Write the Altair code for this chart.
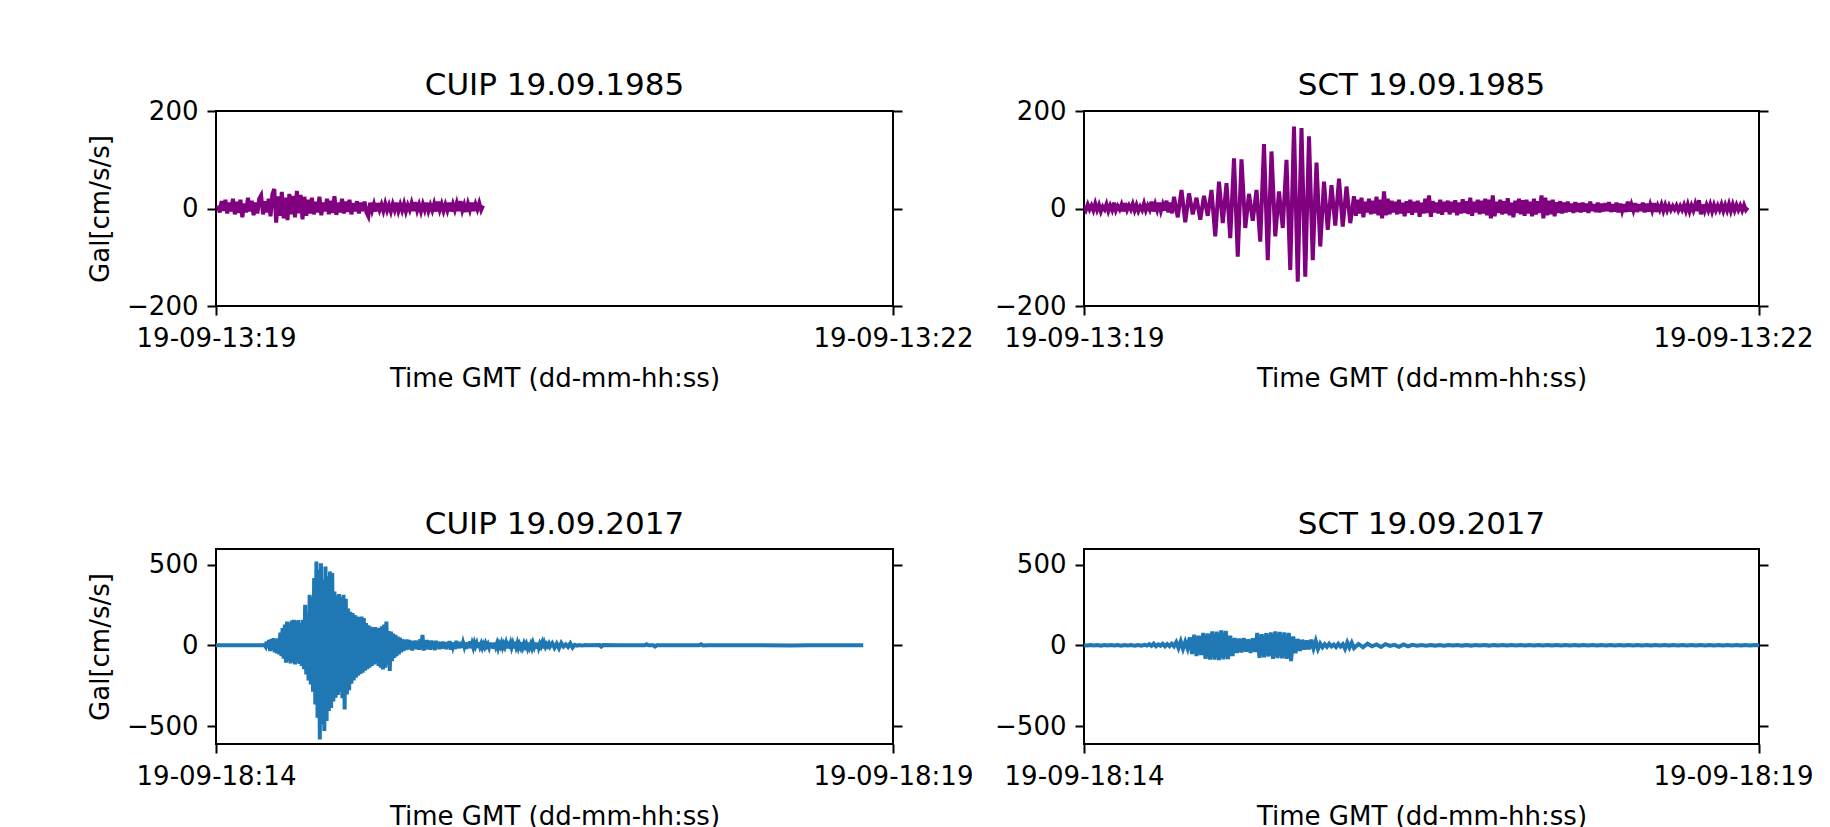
import altair as alt
import pandas as pd

PURPLE = "#800080"
BLUE = "#1f77b4"

# ---------------- CUIP 19.09.1985 (seconds after 13:19:00 GMT, Gal) ----------------
CUIP85_T0 = 0.5
CUIP85_DT = 0.5
CUIP85_ACC = [
    6, -8, 15, -5, 18, -10, 12, -6, 20, -12,
    14, -9, 18, -18, 10, -8, 22, -6, 16, -14,
    12, -10, 20, 27, -12, 15, -8, 20, -16, 30,
    40, -29, 25, -15, 34, -20, 22, -24, 30, -12,
    26, -18, 36, -10, 28, -22, 24, -15, 18, -10,
    22, -12, 14, -8, 24, -14, 12, -6, 20, -12,
    16, -9, 25, -13, 12, -8, 20, -10, 14, -7,
    18, -12, 11, -6, 15, -10, 12, -5, 14, -8,
    -16, 12, -4, 9, -6, 11, -3, 8, -5, 10,
    -4, 7, -6, 9, -3, 12, -5, 8, -4, 10,
    -6, 7, -3, 11, -5, 13, -4, 8, -6, 9,
    -3, 12, -5, 7, -4, 10, -6, 14, -3, 9,
    -5, 8, -4, 12, -6, 9, -3, 11, -5, 15,
    -4, 8, -7, 10, -3, 12, -5, 9, -2, 11,
    -3, 6,
]

# ---------------- SCT 19.09.1985 (seconds after 13:19:00 GMT, Gal) ----------------
SCT85_PRE_T0 = 0.0
SCT85_PRE_DT = 0.5
SCT85_PRE_ACC = [
    5, -3, 8, -2, 6, -4, 10, -3, 7, -6,
    4, -2, 9, -5, 6, -3, 12, -4, 5, -2,
    8, -6, 11, -3, 6, -2, 9, -4, 7, -5,
    4, -3, 10, -4, 6, -2, 14, -6, 9, -3,
    12, -5, 8, -4, 16, -8, 12, -10,
]
SCT85_MAIN_T0 = 24.0
SCT85_MAIN_DT = 1.0
SCT85_MAIN_ACC = [
    24, -18, 38, -28, 31, -12, 22, -23, 26, -15,
    38, -57, 55, -30, 52, -61, 103, -99, 101, -40,
    30, -25, 38, -68, 132, -106, 117, -57, 35, -40,
    100, -126, 168, -150, 165, -140, 148, -106, 94, -78,
    55, -44, 48, -35, 61, -37, 45, -30, 25,
]
SCT85_CODA_T0 = 72.5
SCT85_CODA_DT = 0.5
SCT85_CODA_ACC = [
    -15, 18, -10, 22, -18, 14, -8, 20, -12, 16,
    -10, 24, -14, 18, -20, 35, -14, 20, -12, 16,
    -8, 14, -12, 18, -10, 12, -16, 15, -9, 18,
    -13, 14, -8, 16, -17, 12, -10, 20, -9, 27,
    -17, 15, -8, 12, -10, 18, -13, 14, -7, 16,
    -12, 14, -8, 17, -14, 12, -10, 19, -9, 15,
    -11, 22, -15, 14, -8, 18, -12, 16, -10, 20,
    -14, 18, -20, 27, -16, 14, -9, 18, -12, 15,
    -10, 21, -14, 12, -18, 16, -9, 20, -12, 17,
    -15, 18, -10, 14, -16, 20, -12, 15, -9, 27,
    -20, 22, -14, 16, -12, 18, -16, 13, -9, 15,
    -10, 12, -8, 14, -6, 10, -9, 13, -7, 11,
    -8, 12, -6, 10, -9, 14, -5, 9, -7, 12,
    -8, 10, -6, 11, -5, 13, -7, 9, -6, 12,
    -8, 10, -5, 9, -7, 14, -6, 8, -4, 11,
    -7, 9, -5, 12, -8, 10, -6, 8, -4, 11,
    -7, 6, -3, 8, -5, 7, -4, 6, -3, 5,
    -2, 6, -4, 5, -3, 7, -5, 8, -6, 6,
    -4, 9, -5, 17, -12, 8, -5, 7, -4, 8,
    -6, 7, -4, 6, -3, 8, -5, 7, -4, 9,
    -5, 8, -4, 7, -3, 6, -4, 7, -3, 2,
]

# ---------------- CUIP 19.09.2017 (seconds after 18:14:00 GMT, Gal) ----------------
CUIP17_PRE_T = [0.0, 21.0]
CUIP17_PRE_ACC = [0, 0]
CUIP17_MAIN_T0 = 21.5
CUIP17_MAIN_DT = 0.5
CUIP17_MAIN_ACC = [
    3, -8, 23, -18, 33, -36, 38, -28, 44, -43,
    36, -50, 43, -56, 78, -68, 106, -83, 128, -108,
    147, -98, 138, -113, 153, -106, 157, -118, 148, -108,
    156, -116, 138, -128, 158, -148, 250, -180, 188, -218,
    312, -242, 298, -288, 416, -366, 519, -448, 468, -583,
    508, -488, 405, -531, 488, -468, 428, -407, 457, -388,
    448, -348, 333, -325, 308, -308, 318, -288, 298, -328,
    312, -397, 288, -304, 228, -278, 208, -238, 199, -218,
    188, -201, 178, -188, 173, -178, 178, -170, 168, -158,
    138, -148, 123, -138, 116, -128, 108, -118, 113, -113,
    106, -128, 108, -138, 118, -149, 128, -138, 147, -118,
    88, -159, 85, -98, 73, -78, 64, -67, 54, -56,
    48, -43, 38, -36, 33, -30, 36, -26, 33, -25,
    28, -32, 26, -18, 30, -24, 23, -28, 38, -23,
    64, -33, 28, -26, 33, -20, 26, -28, 30, -18,
    24, -30, 28, -16, 22, -24, 18, -21,
]
CUIP17_CODA_T0 = 100.5
CUIP17_CODA_DT = 0.5
CUIP17_CODA_ACC = [
    23, -18, 16, -24, 20, -13, 26, -28, 18, -10,
    14, -23, 28, -16, 12, -18, 21, -14, 16, -8,
    18, -22, 13, -10, 24, -18, 10, -13, 15, -6,
    12, -16, 18, -8, 10, -14, 6, -10, 13, -4,
    8, -12, 16, -18, 14, -21, 17, -8, 12, -16,
    10, -6, 14, -12, 8, -10, 13, -18, 6, -3,
    16, -13, 10, -18, 22, -8, 14, -15, 6, -12,
    18, -10, 12, -7, 9, -14, 16, -11, 8, -15,
    13, -8, 17, -21, 15, -13, 10, -6, 14, -18,
    12, -9, 7, -4, 10, -8,
]
CUIP17_LATE_T0 = 149.0
CUIP17_LATE_DT = 1.0
CUIP17_LATE_ACC = [13, -16, 10, -18, 14, -8, 6, -10, 12, -14, 3, -2, 1, -1, 0]
CUIP17_TAIL_T = [163.5, 165, 170.0, 170.7, 171.5, 178, 190, 190.8, 191.6, 193.8,
                 194.5, 195.3, 214, 215.0, 215.8, 218, 240, 255, 262, 286.8]
CUIP17_TAIL_ACC = [1, 0, 1, -8, 1, 0, 0, 6, 0, 0,
                   -8, 0, 0, 6, -1, 0, 1, -1, 1, 0]

# ---------------- SCT 19.09.2017 (seconds after 18:14:00 GMT, Gal) ----------------
SCT17_PRE_T0 = 0.0
SCT17_PRE_DT = 1.5
SCT17_PRE_ACC = [1, -1, 2, -1, 1, -2, 2, -1, 2, -1, 1, -2, 2, -1, 1, -3, 2, -2]
SCT17_MAIN_T0 = 27.0
SCT17_MAIN_DT = 1.0
SCT17_MAIN_ACC = [
    3, -2, 7, -4, 10, -6, 5, -3, 9, -6,
    8, -5, 10, -6,
    19, -17, 24, -22, 21, -19,
    49, -54, 65, -67, 59, -61,
    76, -84, 74, -88,
    86, -89, 84, -92, 92, -87, 89, -85,
    59, -67, 45, -47, 41, -44, 45, -39, 37, -47,
    43, -41, 76, -78, 69, -74, 75, -69,
    80, -84, 86, -79, 83, -81, 79, -84,
    77, -98, 55, -49, 39, -34,
    34, -26, 29, -24, 34, -19, 27, -23,
    10, -12, 7, -9, 10, -7, 5, -11, 9, -8, 7,
    -22, 18, -14, 16, -17,
]
SCT17_TAIL_T0 = 122.0
SCT17_TAIL_DT = 2.0
SCT17_TAIL_ACC = [
    8, -12, 10, -6, 5,
    -10, 7, -4, 3, -9, 5, -6, 3, -3,
    2, -3, 1, -2, 2, -3, 1, -1, 2, -2,
    1, -2, 2, -1, 1, -2, 2, -1, 1, -2,
    1, -2, 1, -1, 1, -1, 1, -1, 2, -1,
    1, -1, 1, -1, 1, -1, 1, -1, 1, -1,
    1, -1, 1, -1, 1, -1, 1, -1, 1, -1,
    1, -1, 1, -1, 1, -1, 1, -1, 1, -1,
    1, -1, 1, -1, 1, -1, 1, -1, 1, -1,
    1, -1, 1, -1, 1, 0,
]

TITLES = ["CUIP 19.09.1985", "SCT 19.09.1985", "CUIP 19.09.2017", "SCT 19.09.2017"]
X85_TICKS = [0, 180]
X85_LABELS = ["19-09-13:19", "19-09-13:22"]
X17_TICKS = [0, 300]
X17_LABELS = ["19-09-18:14", "19-09-18:19"]
Y85_DOMAIN = [-200, 200]
Y85_TICKS = [-200, 0, 200]
Y17_DOMAIN = [-611, 596]
Y17_TICKS = [-500, 0, 500]
X_TITLE = "Time GMT (dd-mm-hh:ss)"
Y_TITLE = "Gal[cm/s/s]"


def regular(t0, dt, acc):
    return [(t0 + i * dt, v) for i, v in enumerate(acc)]


def explicit(ts, acc):
    return list(zip(ts, acc))


def frame(*parts):
    rows = []
    for p in parts:
        rows.extend(p)
    return pd.DataFrame(rows, columns=["t", "acc"])


df_cuip85 = frame(regular(CUIP85_T0, CUIP85_DT, CUIP85_ACC))
df_sct85 = frame(
    regular(SCT85_PRE_T0, SCT85_PRE_DT, SCT85_PRE_ACC),
    regular(SCT85_MAIN_T0, SCT85_MAIN_DT, SCT85_MAIN_ACC),
    regular(SCT85_CODA_T0, SCT85_CODA_DT, SCT85_CODA_ACC),
)
df_cuip17 = frame(
    explicit(CUIP17_PRE_T, CUIP17_PRE_ACC),
    regular(CUIP17_MAIN_T0, CUIP17_MAIN_DT, CUIP17_MAIN_ACC),
    regular(CUIP17_CODA_T0, CUIP17_CODA_DT, CUIP17_CODA_ACC),
    regular(CUIP17_LATE_T0, CUIP17_LATE_DT, CUIP17_LATE_ACC),
    explicit(CUIP17_TAIL_T, CUIP17_TAIL_ACC),
)
df_sct17 = frame(
    regular(SCT17_PRE_T0, SCT17_PRE_DT, SCT17_PRE_ACC),
    regular(SCT17_MAIN_T0, SCT17_MAIN_DT, SCT17_MAIN_ACC),
    regular(SCT17_TAIL_T0, SCT17_TAIL_DT, SCT17_TAIL_ACC),
)

PANEL_H = 195


def panel(df, color, title, title_offset, width, xticks, xlabels, ydomain, yticks,
          with_ytitle, last_shift):
    label_expr = " : ".join(
        f"datum.value == {v} ? '{l}'" for v, l in zip(xticks, xlabels)
    ) + " : ''"
    xscale = alt.Scale(domain=[xticks[0], xticks[-1]], nice=False, zero=False)
    yscale = alt.Scale(domain=ydomain, nice=False, zero=False)
    yaxis_kw = dict(values=yticks, grid=False, domain=False, labelPadding=9)
    if with_ytitle:
        yaxis_kw["title"] = Y_TITLE
        yaxis_kw["titlePadding"] = 13
    else:
        yaxis_kw["title"] = None
    xaxis_kw = dict(
        values=xticks,
        labelExpr=label_expr,
        title=X_TITLE,
        labelFlush=False,
        labelOverlap=False,
        grid=False,
        domain=False,
        labelPadding=10,
        titlePadding=14,
    )
    if last_shift:
        xaxis_kw["labelOffset"] = {
            "condition": {"test": f"datum.value == {xticks[-1]}", "value": last_shift},
            "value": 0,
        }
    line = alt.Chart(df).mark_line(color=color, strokeWidth=4, clip=True).encode(
        x=alt.X("t:Q", scale=xscale, axis=alt.Axis(**xaxis_kw)),
        y=alt.Y("acc:Q", scale=yscale, axis=alt.Axis(**yaxis_kw)),
    )
    right = alt.Chart(pd.DataFrame({"acc": ydomain})).mark_point(opacity=0).encode(
        y=alt.Y(
            "acc:Q",
            scale=yscale,
            axis=alt.Axis(
                orient="right",
                values=yticks,
                labels=False,
                title=None,
                grid=False,
                domain=False,
            ),
        )
    )
    return (
        alt.layer(line, right)
        .resolve_axis(y="independent")
        .properties(
            width=width,
            height=PANEL_H,
            title=alt.TitleParams(text=title, offset=title_offset),
        )
    )


p1 = panel(df_cuip85, PURPLE, TITLES[0], -4, 677, X85_TICKS, X85_LABELS,
           Y85_DOMAIN, Y85_TICKS, True, 0)
p2 = panel(df_sct85, PURPLE, TITLES[1], -4, 675, X85_TICKS, X85_LABELS,
           Y85_DOMAIN, Y85_TICKS, False, -26)
p3 = panel(df_cuip17, BLUE, TITLES[2], 5, 677, X17_TICKS, X17_LABELS,
           Y17_DOMAIN, Y17_TICKS, True, 0)
p4 = panel(df_sct17, BLUE, TITLES[3], 5, 675, X17_TICKS, X17_LABELS,
           Y17_DOMAIN, Y17_TICKS, False, -26)

chart = (
    alt.vconcat(
        alt.hconcat(p1, p2, spacing=19),
        alt.hconcat(p3, p4, spacing=19),
        spacing=116,
    )
    .properties(
        padding={"left": 78, "top": 61, "right": 0, "bottom": 0},
        background="white",
    )
    .configure(font="DejaVu Sans")
    .configure_view(stroke="black", strokeWidth=2)
    .configure_axis(
        labelFont="DejaVu Sans",
        labelFontSize=26,
        titleFont="DejaVu Sans",
        titleFontSize=26,
        titleFontWeight="normal",
        labelColor="black",
        titleColor="black",
        tickColor="black",
        tickWidth=2,
        tickSize=9,
    )
    .configure_title(
        font="DejaVu Sans",
        fontSize=31,
        fontWeight="normal",
        color="black",
        anchor="middle",
    )
)

chart.save("out.html", embed_options={"renderer": "svg", "actions": False})
